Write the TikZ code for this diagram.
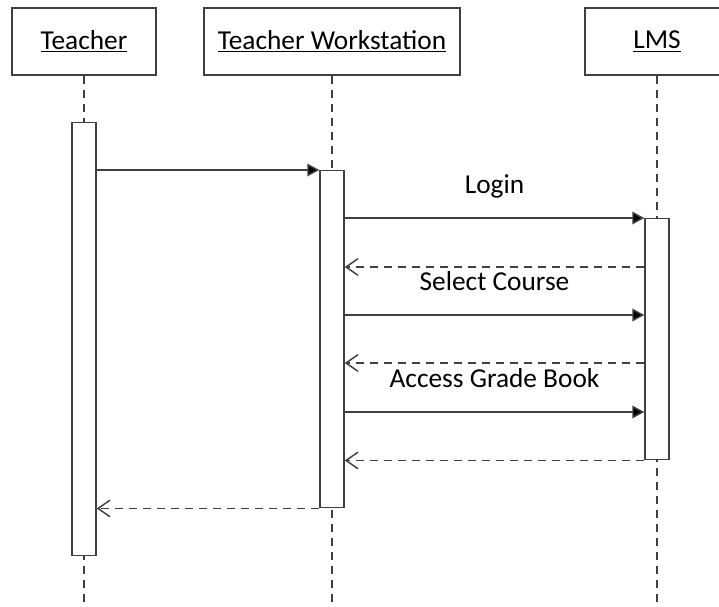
\documentclass[tikz,border=0pt]{standalone}
\usepackage{fontspec}
\setmainfont{Carlito}
\usetikzlibrary{arrows.meta,positioning}
\definecolor{linegray}{RGB}{64,64,64}
\tikzset{
  actor/.style={rectangle, draw=linegray, line width=1.1pt, fill=white,
                minimum width=108pt, minimum height=50.25pt, font=\fontsize{20.5}{24}\selectfont},
  actorwide/.style={actor, minimum width=192pt},
  activation/.style={rectangle, draw=linegray, line width=1.1pt, fill=white,
                minimum width=18pt, inner sep=0pt, anchor=north},
  lifeline/.style={draw=linegray, line width=1.1pt, dash pattern=on 6.5pt off 4pt},
  call/.style={-{Triangle[length=9pt,width=9.5pt,fill=black]}, line width=1.1pt, linegray},
  reply/.style={-{Straight Barb[length=9pt,width=12.5pt]}, line width=1.1pt, linegray,
                dash pattern=on 6.5pt off 4pt},
  msglabel/.style={font=\fontsize{20.5}{24}\selectfont, text=black, anchor=base, yshift=18.5pt},
}

\begin{document}
\begin{tikzpicture}[x=0.75pt, y=-0.75pt]
\clip (0,0) rectangle (719,607);
% participants
\node[actor] (teacher) at (84,41.5) {\underline{Teacher}};
\node[actorwide] (station) at (332,41.5) {\underline{Teacher Workstation}};
\node[actor] (lms) at (657,41.5) {\underline{LMS}};

\coordinate (bottom) at (0,607);
\draw[lifeline] (teacher.south) -- (teacher.south |- bottom);
\draw[lifeline] (station.south) -- (station.south |- bottom);
\draw[lifeline] (lms.south) -- (lms.south |- bottom);

% activation bars
\node[activation, minimum height=324.75pt] (tbar) at (84,122) {};
\node[activation, minimum height=252.75pt] (wbar) at (332,170) {};
\node[activation, minimum height=180.75pt] (lbar) at (657,218) {};

% messages
\coordinate (row1) at (0,267);
\coordinate (row2) at (0,315);
\coordinate (row3) at (0,363);
\coordinate (row4) at (0,412);

\draw[call] (tbar.east |- wbar.north) -- (wbar.north west);
\draw[call] (wbar.east |- lbar.north) -- (lbar.north west) node[midway, msglabel] {Login};
\draw[reply] (lbar.west |- row1) -- (wbar.east |- row1);
\draw[call] (wbar.east |- row2) -- (lbar.west |- row2) node[midway, msglabel] {Select Course};
\draw[reply] (lbar.west |- row3) -- (wbar.east |- row3);
\draw[call] (wbar.east |- row4) -- (lbar.west |- row4) node[midway, msglabel] {Access Grade Book};
\draw[reply] (lbar.south west) -- (wbar.east |- lbar.south);
\draw[reply] (wbar.south west) -- (tbar.east |- wbar.south);
\end{tikzpicture}
\end{document}
